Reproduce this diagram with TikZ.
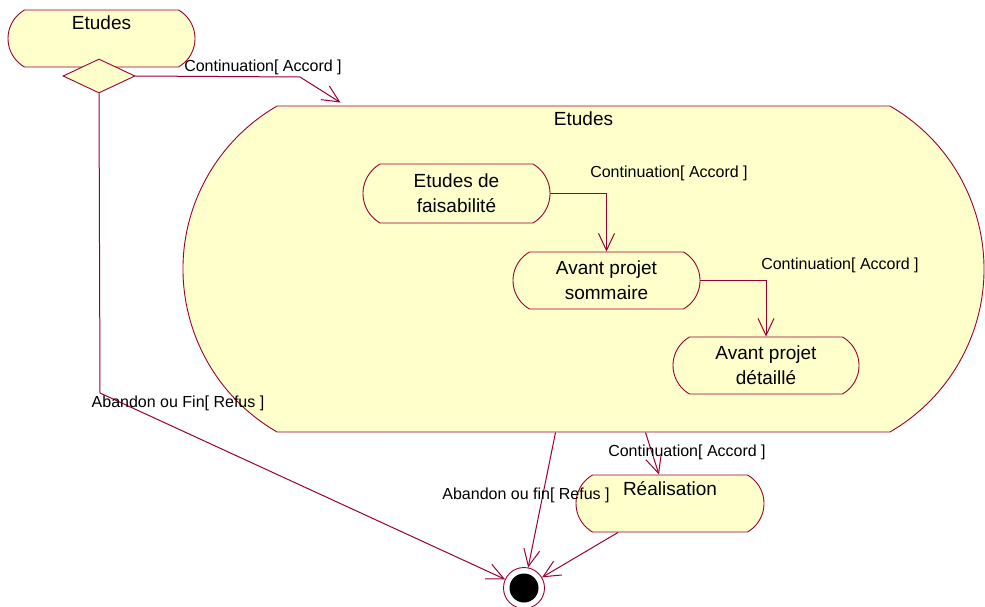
\documentclass[tikz,border=0pt]{standalone}
\usepackage{fontspec}
\setmainfont{Liberation Sans}
\usetikzlibrary{positioning, arrows.meta, shapes.geometric, shapes.misc, calc}
\definecolor{rosetrait}{RGB}{153,0,51}
\definecolor{rosefond}{RGB}{255,255,204}
\tikzset{etat/.style={rounded rectangle, rounded rectangle arc length=120,
           draw=rosetrait, fill=rosefond, line width=0.9pt, inner sep=0pt,
           align=center, font=\fontsize{19}{25}\selectfont},
         lbl/.style={font=\fontsize{16}{18}\selectfont, inner sep=0pt},
         trans/.style={draw=rosetrait, line width=1pt,
           -{Straight Barb[length=17pt,width=16pt]}}}

\begin{document}
\begin{tikzpicture}[x=1pt, y=-1pt]
        \useasboundingbox (0,0) rectangle (985,607);
        % Etats
        \node[etat, minimum width=187pt, text height=20pt, text depth=37pt] (etudes) at (101.5,38.5) {Etudes};
        \node[diamond, draw=rosetrait, fill=rosefond, line width=0.9pt, inner sep=0pt,
              minimum width=72pt, minimum height=34pt] (choix) at (99,76) {};
        \node[etat, minimum width=801pt, text height=19pt, text depth=307pt] (grand) at (583.5,269) {Etudes};
        \node[etat, minimum width=187pt, minimum height=59pt] (faisa) at (456.5,193.5) {Etudes de\\faisabilité};
        \node[etat, minimum width=187pt, minimum height=57pt] (somm) at (606.5,280.5) {Avant projet\\sommaire};
        \node[etat, minimum width=186pt, minimum height=57pt] (detail) at (766,365.5) {Avant projet\\détaillé};
        \node[etat, minimum width=188pt, text height=20pt, text depth=37pt] (real) at (670,503.5) {Réalisation};
        \node[circle, draw=rosetrait, fill=white, line width=0.9pt, inner sep=0pt, minimum size=41pt] (fin) at (524,588) {};
        \node[circle, fill=black, inner sep=0pt, minimum size=29pt] (finpoint) at (fin) {};

        % Transitions
        \draw[trans] (choix.east) -- (300,77) -- ($(grand.north)+(-243,-3)$);
        \draw[trans] (faisa.east) -| (somm.north);
        \draw[trans] (somm.east) -| (detail.north);
        \draw[trans] (choix.south) -- (100,393) -- (fin);
        \draw[trans] ($(grand.south)+(-28,0)$) -- (fin);
        \draw[trans] ($(grand.south)+(62,0)$) -- ($(real.north)+(-11,0)$);
        \draw[trans] ($(real.south)+(-52,0)$) -- (fin);

        % Gardes
        \node[lbl] (g1) at (263,67) {Continuation[ Accord ]};
        \node[lbl] (g2) at (669,173) {Continuation[ Accord ]};
        \node[lbl] (g3) at (840,265) {Continuation[ Accord ]};
        \node[lbl] (g4) at (687,452) {Continuation[ Accord ]};
        \node[lbl] (g5) at (178,403) {Abandon ou Fin[ Refus ]};
        \node[lbl] (g6) at (526,495) {Abandon ou fin[ Refus ]};
    \end{tikzpicture}
\end{document}
